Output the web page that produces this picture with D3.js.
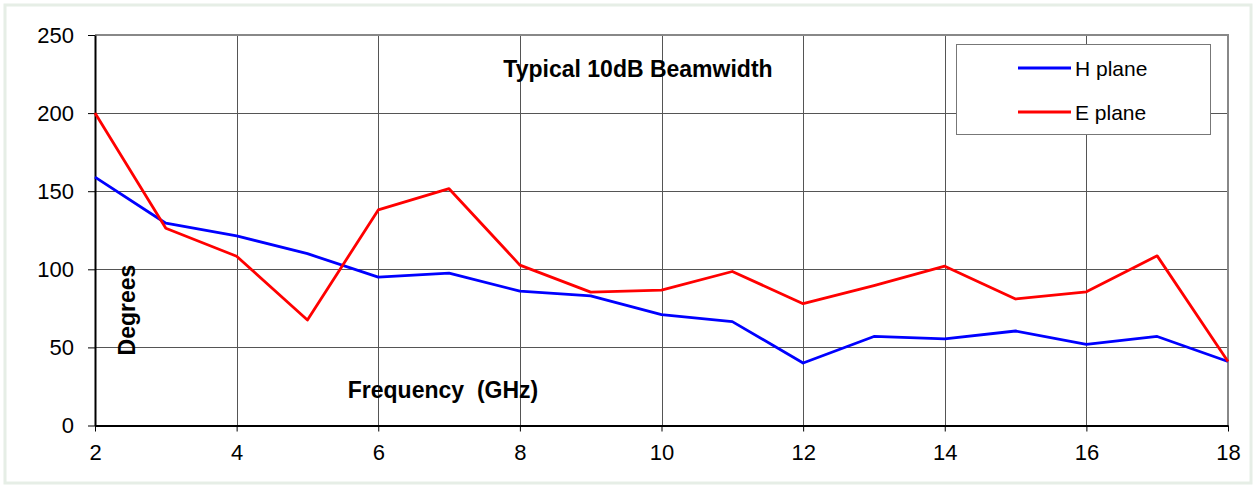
<!DOCTYPE html>
<html><head><meta charset="utf-8">
<script src="https://cdn.jsdelivr.net/npm/d3@7"></script>
<style>
body{margin:0;background:#fff;}
svg{display:block;font-family:"Liberation Sans",Arial,sans-serif;}
</style></head>
<body><svg id="c" width="1255" height="488"></svg>
<script>
const frequencies = [2,3,4,5,6,7,8,9,10,11,12,13,14,15,16,17,18];
const hPlane = [159,129.5,121.4,110,95,97.6,86,83,71,66.5,40,57,55.4,60.5,52,57,41];
const ePlane = [200,126.3,108.4,67.5,138,151.6,102.7,85.4,86.7,98.6,78,89.5,102,81,85.6,108.6,41];
const xTicks = [2,4,6,8,10,12,14,16,18];
const yTicks = [0,50,100,150,200,250];
const seriesNames = ["H plane","E plane"];
const seriesColors = ["#0000ff","#ff0000"];

const svg = d3.select("#c");
// outer frame
svg.append("rect").attr("x",5).attr("y",5).attr("width",1246).attr("height",478)
  .attr("fill","#fff").attr("stroke","#e6eee6").attr("stroke-width",3);

const L=95,R=1228,T=35,B=425.5;
const x = d3.scaleLinear().domain([2,18]).range([L,R]);
const y = d3.scaleLinear().domain([0,250]).range([B,T]);

// grid
svg.append("g").selectAll("line").data(xTicks.slice(1,-1)).join("line")
  .attr("x1",d=>Math.round(x(d))+0.5).attr("x2",d=>Math.round(x(d))+0.5)
  .attr("y1",T).attr("y2",B).attr("stroke","#555").attr("stroke-width",1);
svg.append("g").selectAll("line").data(yTicks.slice(1,-1)).join("line")
  .attr("y1",d=>Math.round(y(d))+0.5).attr("y2",d=>Math.round(y(d))+0.5)
  .attr("x1",L).attr("x2",R).attr("stroke","#555").attr("stroke-width",1);
// top & right border
svg.append("path").attr("d",`M${L},${T}H${R}V${B}`).attr("fill","none")
  .attr("stroke","#888").attr("stroke-width",2);

// axes
const xAxis = d3.axisBottom(x).tickValues(xTicks).tickSize(6).tickPadding(13).tickSizeOuter(0);
const gx = svg.append("g").attr("transform",`translate(0,${B})`).call(xAxis);
gx.select(".domain").attr("stroke","#000").attr("stroke-width",2);
gx.selectAll(".tick line").attr("stroke","#000");
gx.selectAll(".tick text").attr("font-size",22).attr("fill","#000")
  .attr("font-family","Liberation Sans, Arial, sans-serif");

const yAxis = d3.axisLeft(y).tickValues(yTicks).tickSize(7).tickPadding(14).tickSizeOuter(0);
const gy = svg.append("g").attr("transform",`translate(${L},0)`).call(yAxis);
gy.select(".domain").attr("stroke","#000").attr("stroke-width",2);
gy.selectAll(".tick line").attr("stroke","#000");
gy.selectAll(".tick text").attr("font-size",22).attr("fill","#000")
  .attr("font-family","Liberation Sans, Arial, sans-serif");

// lines
const line = d3.line().x((d,i)=>x(frequencies[i])).y(d=>y(d));
[hPlane,ePlane].forEach((s,i)=>{
  svg.append("path").datum(s).attr("d",line).attr("fill","none")
    .attr("stroke",seriesColors[i]).attr("stroke-width",2.8).attr("stroke-linejoin","round");
});

// texts
svg.append("text").attr("x",638).attr("y",77).attr("text-anchor","middle")
  .attr("font-size",23).attr("font-weight","bold").text("Typical 10dB Beamwidth");
svg.append("text").attr("x",443).attr("y",398).attr("text-anchor","middle")
  .attr("font-size",23).attr("font-weight","bold").attr("xml:space","preserve").text("Frequency  (GHz)");
svg.append("text").attr("transform","translate(135,310) rotate(-90)").attr("text-anchor","middle")
  .attr("font-size",23).attr("font-weight","bold").text("Degrees");

// legend
const lg = svg.append("g");
lg.append("rect").attr("x",956.5).attr("y",44.5).attr("width",254).attr("height",90)
  .attr("fill","#fff").attr("stroke","#777").attr("stroke-width",1);
seriesNames.forEach((n,i)=>{
  const yy = 68 + i*44;
  lg.append("line").attr("x1",1018).attr("x2",1071).attr("y1",yy).attr("y2",yy)
    .attr("stroke",seriesColors[i]).attr("stroke-width",2.8);
  lg.append("text").attr("x",1075).attr("y",yy+7.5).attr("font-size",21).text(n);
});
</script></body></html>
